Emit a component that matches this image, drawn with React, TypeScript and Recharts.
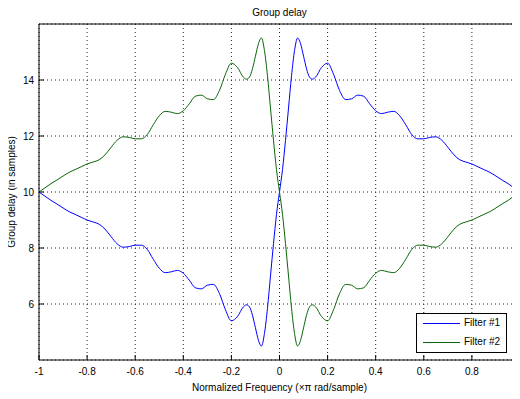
import React from 'react';
import { LineChart, Line, XAxis, YAxis, CartesianGrid, ReferenceLine } from 'recharts';

const freq = [
  -1, -0.975, -0.95, -0.925, -0.9, -0.875, -0.85, -0.825, -0.8, -0.775, -0.75, -0.725, -0.7, -0.675, -0.65, -0.625,
  -0.6, -0.575, -0.55, -0.525, -0.5, -0.475, -0.45, -0.425, -0.4, -0.375, -0.35, -0.325, -0.3, -0.275, -0.25, -0.225,
  -0.2, -0.175, -0.15, -0.1375, -0.125, -0.1125, -0.1, -0.0875, -0.075, -0.0625, -0.05, -0.0375, -0.025, -0.0125,
  0,
  0.0125, 0.025, 0.0375, 0.05, 0.0625, 0.075, 0.0875, 0.1, 0.1125, 0.125, 0.1375, 0.15, 0.175, 0.2, 0.225, 0.25,
  0.275, 0.3, 0.325, 0.35, 0.375, 0.4, 0.425, 0.45, 0.475, 0.5, 0.525, 0.55, 0.575, 0.6, 0.625, 0.65, 0.675, 0.7,
  0.725, 0.75, 0.775, 0.8, 0.825, 0.85, 0.875, 0.9, 0.925, 0.95, 0.975, 1,
];

const filter1 = [
  10, 9.85, 9.7, 9.57, 9.43, 9.3, 9.2, 9.1, 9.0, 8.93, 8.85, 8.67, 8.4, 8.15, 8.03, 8.05,
  8.1, 8.1, 7.95, 7.6, 7.28, 7.12, 7.15, 7.2, 7.1, 6.85, 6.58, 6.54, 6.67, 6.7, 6.38, 5.8,
  5.4, 5.55, 5.9, 5.97, 5.9, 5.6, 5.15, 4.7, 4.5, 4.95, 5.85, 7.0, 8.15, 9.2,
  10,
  10.8, 11.85, 13.0, 14.15, 15.05, 15.5, 15.3, 14.85, 14.4, 14.1, 14.03, 14.1, 14.45, 14.6, 14.2, 13.62,
  13.3, 13.33, 13.46, 13.42, 13.15, 12.9, 12.8, 12.85, 12.88, 12.72, 12.4, 12.05, 11.9, 11.9, 11.95, 11.97, 11.85, 11.6,
  11.33, 11.15, 11.07, 11.0, 10.9, 10.8, 10.7, 10.57, 10.43, 10.3, 10.15, 10,
];

const filter2 = [
  10, 10.15, 10.3, 10.43, 10.57, 10.7, 10.8, 10.9, 11.0, 11.07, 11.15, 11.33, 11.6, 11.85, 11.97, 11.95,
  11.9, 11.9, 12.05, 12.4, 12.72, 12.88, 12.85, 12.8, 12.9, 13.15, 13.42, 13.46, 13.33, 13.3, 13.62, 14.2,
  14.6, 14.45, 14.1, 14.03, 14.1, 14.4, 14.85, 15.3, 15.5, 15.05, 14.15, 13.0, 11.85, 10.8,
  10,
  9.2, 8.15, 7.0, 5.85, 4.95, 4.5, 4.7, 5.15, 5.6, 5.9, 5.97, 5.9, 5.55, 5.4, 5.8, 6.38,
  6.7, 6.67, 6.54, 6.58, 6.85, 7.1, 7.2, 7.15, 7.12, 7.28, 7.6, 7.95, 8.1, 8.1, 8.05, 8.03, 8.15, 8.4,
  8.67, 8.85, 8.93, 9.0, 9.1, 9.2, 9.3, 9.43, 9.57, 9.7, 9.85, 10,
];

const xTicks = [-1, -0.8, -0.6, -0.4, -0.2, 0, 0.2, 0.4, 0.6, 0.8];
const yTicks = [6, 8, 10, 12, 14];

const data = freq.map((x, i) => ({ x, f1: filter1[i], f2: filter2[i] }));

const FONT = '"Liberation Sans", Arial, Helvetica, sans-serif';
const BLUE = '#0000ff';
const GREEN = '#0a650a';

const legendItems = [
  { name: 'Filter #1', color: BLUE, top: 10 },
  { name: 'Filter #2', color: GREEN, top: 29 },
];

const LegendBox = () => (
  <div
    style={{
      position: 'absolute',
      left: 408,
      top: 305,
      width: 89,
      height: 38,
      border: '1px solid #000',
      background: '#fff',
      fontSize: 10,
      color: '#000',
      zIndex: 3,
    }}
  >
    {legendItems.map((e) => (
      <div key={e.name}>
        <div style={{ position: 'absolute', left: 6, top: e.top - 1, width: 37, height: 1, background: e.color }} />
        <div style={{ position: 'absolute', left: 47, top: e.top - 7, lineHeight: '12px' }}>{e.name}</div>
      </div>
    ))}
  </div>
);

export default function App() {
  return (
    <div style={{ position: 'relative', width: 512, height: 391, fontFamily: FONT, background: '#fff' }}>
      <div
        style={{
          position: 'absolute',
          left: 31,
          width: 481,
          top: -1,
          textAlign: 'center',
          fontSize: 10,
          lineHeight: '12px',
          zIndex: 2,
        }}
      >
        Group delay
      </div>
      <div
        style={{
          position: 'absolute',
          left: 31,
          width: 481,
          top: 374,
          textAlign: 'center',
          fontSize: 10,
          lineHeight: '12px',
          zIndex: 2,
        }}
      >
        Normalized Frequency (×π rad/sample)
      </div>
      <div
        style={{
          position: 'absolute',
          left: 4 - 100,
          top: 184 - 6,
          width: 200,
          textAlign: 'center',
          fontSize: 10,
          lineHeight: '12px',
          transform: 'rotate(-90deg)',
          zIndex: 2,
        }}
      >
        Group delay (in samples)
      </div>
      <LineChart width={512} height={391} data={data} margin={{ top: 16, right: 0, bottom: 0, left: 0 }}>
        <CartesianGrid stroke="#222" strokeDasharray="1 3" />
        <XAxis
          dataKey="x"
          type="number"
          domain={[-1, 1]}
          ticks={xTicks}
          tickFormatter={(v) => String(v)}
          height={39}
          tickSize={-5}
          tickMargin={13}
          stroke="#000"
          tick={{ fill: '#000', fontSize: 10, fontFamily: FONT }}
          allowDataOverflow
        />
        <YAxis
          type="number"
          domain={[4, 16]}
          ticks={yTicks}
          width={31}
          tickSize={-5}
          tickMargin={10}
          stroke="#000"
          tick={{ fill: '#000', fontSize: 10, fontFamily: FONT }}
          allowDataOverflow
        />
        <ReferenceLine y={16} stroke="#000" />
        <Line type="monotone" dataKey="f1" name="Filter #1" stroke={BLUE} strokeWidth={1} dot={false} isAnimationActive={false} />
        <Line type="monotone" dataKey="f2" name="Filter #2" stroke={GREEN} strokeWidth={1} dot={false} isAnimationActive={false} />
      </LineChart>
      <LegendBox />
    </div>
  );
}
